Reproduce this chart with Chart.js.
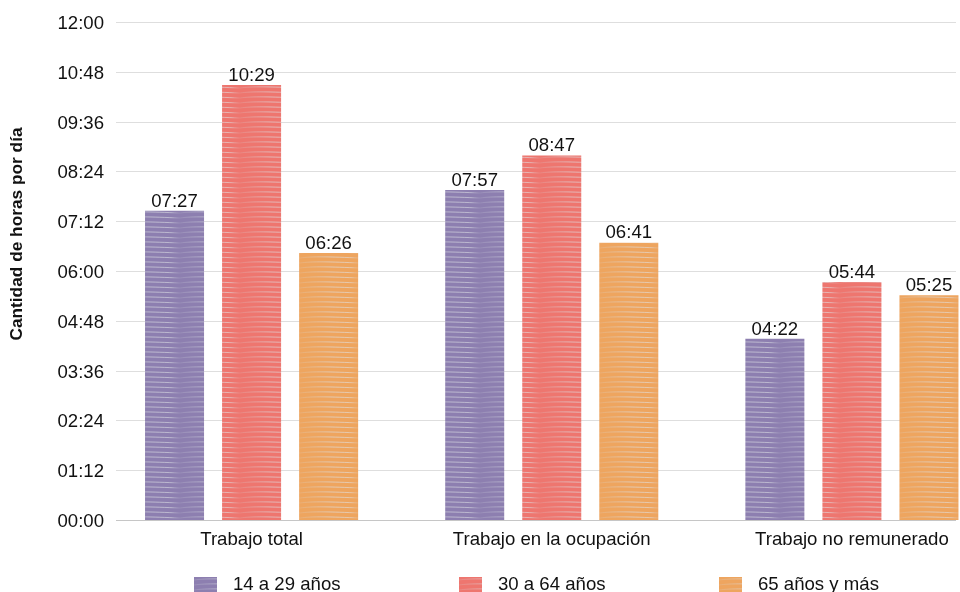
<!DOCTYPE html>
<html lang="es">
<head>
<meta charset="utf-8">
<title>Cantidad de horas por día</title>
<script src="https://cdn.jsdelivr.net/npm/chart.js@4"></script>
<style>
    html, body { margin: 0; padding: 0; background: #fff; overflow: hidden; }
    #wrap { position: absolute; left: 0; top: 0; width: 1002px; height: 592px; }
    .leg { position: absolute; top: 573px; font: 18.6px "Liberation Sans", Arial, sans-serif; color: #111; white-space: nowrap; }
    .leg canvas { position: absolute; left: 0; top: 4px; }
    .leg span { position: absolute; top: 0; }
</style>
</head>
<body>
<div id="wrap"><canvas id="chart"></canvas></div>
<div id="legend"></div>
<script>
// datos (hh:mm por día)
const categories = ['Trabajo total', 'Trabajo en la ocupación', 'Trabajo no remunerado'];
const seriesNames = ['14 a 29 años', '30 a 64 años', '65 años y más'];
const serie14a29 = ['07:27', '07:57', '04:22'];
const serie30a64 = ['10:29', '08:47', '05:44'];
const serie65mas = ['06:26', '06:41', '05:25'];
const yTickStep = 72;   // minutos (01:12)
const yMax = 720;       // 12:00

const baseColors = ['#8d7fb0', '#ee766f', '#eea55f'];
const FONT = '"Liberation Sans", Arial, sans-serif';

// "07:27" -> 447 minutos
function toMinutes(s) {
    const [h, m] = s.split(':').map(Number);
    return h * 60 + m;
}
function toHHMM(v) {
    const h = Math.floor(v / 60), m = Math.round(v % 60);
    return String(h).padStart(2, '0') + ':' + String(m).padStart(2, '0');
}

// relleno con rayas claras onduladas (suaves, casi horizontales)
function makePattern(color) {
    const c = document.createElement('canvas');
    c.width = 60; c.height = 5;
    const g = c.getContext('2d');
    g.fillStyle = color;
    g.fillRect(0, 0, 60, 5);
    const grad = g.createLinearGradient(0, 0, 60, 0);
    grad.addColorStop(0, 'rgba(215,220,226,0.15)');
    grad.addColorStop(0.5, 'rgba(220,224,228,0.6)');
    grad.addColorStop(0.85, 'rgba(225,228,232,0.55)');
    grad.addColorStop(1, 'rgba(215,220,226,0.15)');
    g.strokeStyle = grad;
    g.lineWidth = 1;
    g.beginPath();
    g.moveTo(0, 3);
    g.bezierCurveTo(12, 1.2, 30, 1.8, 60, 3);
    g.stroke();
    return g.createPattern(c, 'repeat');
}
const patterns = baseColors.map(makePattern);

// grilla desde x=116 y etiquetas del eje Y (sin recorte del eje)
const gridPlugin = {
    id: 'grid',
    beforeDatasetsDraw(chart) {
        const ctx = chart.ctx, y = chart.scales.y;
        ctx.save();
        ctx.lineWidth = 1;
        ctx.font = '18.6px ' + FONT;
        ctx.fillStyle = '#111';
        ctx.textAlign = 'right';
        ctx.textBaseline = 'middle';
        y.ticks.forEach(t => {
            const py = Math.round(y.getPixelForValue(t.value)) + 0.5;
            ctx.strokeStyle = t.value === 0 ? '#c6c6c6' : '#dedede';
            ctx.beginPath();
            ctx.moveTo(116, py);
            ctx.lineTo(956, py);
            ctx.stroke();
            ctx.fillText(toHHMM(t.value), 104, py + 1.5);
        });
        ctx.restore();
    }
};

// etiquetas sobre las barras + título del eje
const labelPlugin = {
    id: 'labels',
    afterDatasetsDraw(chart) {
        const ctx = chart.ctx;
        ctx.save();
        ctx.font = '18.6px ' + FONT;
        ctx.fillStyle = '#111';
        ctx.textAlign = 'center';
        ctx.textBaseline = 'bottom';
        chart.data.datasets.forEach((ds, i) => {
            chart.getDatasetMeta(i).data.forEach((bar, j) => {
                ctx.fillText(toHHMM(ds.data[j]), bar.x, bar.y);
            });
        });
        // título vertical
        ctx.translate(17, 234);
        ctx.rotate(-Math.PI / 2);
        ctx.font = 'bold 17.3px ' + FONT;
        ctx.textBaseline = 'middle';
        ctx.fillText('Cantidad de horas por día', 0, 0);
        ctx.restore();
    }
};

const seriesData = [serie14a29, serie30a64, serie65mas];

const myChart = new Chart(document.getElementById('chart'), {
    type: 'bar',
    data: {
        labels: categories,
        datasets: seriesNames.map((name, i) => ({
            label: name,
            data: seriesData[i].map(toMinutes),
            backgroundColor: patterns[i],
            borderWidth: 0,
            categoryPercentage: 0.77,
            barPercentage: 0.766
        }))
    },
    options: {
        responsive: true,
        maintainAspectRatio: false,
        animation: false,
        layout: { padding: { top: 22, right: 0, bottom: 0, left: 0 } },
        scales: {
            x: {
                grid: { display: false, drawTicks: false },
                border: { display: false },
                ticks: {
                    padding: 9,
                    color: '#111',
                    font: { family: FONT, size: 18.6 }
                },
                afterFit: s => { s.height = 72; }
            },
            y: {
                min: 0,
                max: yMax,
                grid: { display: false, drawTicks: false },
                border: { display: false },
                ticks: {
                    display: false,
                    stepSize: yTickStep,
                    callback: v => toHHMM(v)
                },
                afterFit: s => { s.width = 101.5; }
            }
        },
        plugins: {
            legend: { display: false },
            tooltip: { enabled: false }
        }
    },
    plugins: [gridPlugin, labelPlugin]
});

// leyenda en HTML
const legendX = [194, 459, 719];
const $legend = document.getElementById('legend');
seriesNames.forEach((name, i) => {
    const item = document.createElement('div');
    item.className = 'leg';
    item.style.left = legendX[i] + 'px';
    const sw = document.createElement('canvas');
    sw.width = 23; sw.height = 18;
    const g = sw.getContext('2d');
    g.fillStyle = patterns[i];
    g.fillRect(0, 0, 23, 18);
    const txt = document.createElement('span');
    txt.style.left = '39px';
    txt.textContent = name;
    item.appendChild(sw);
    item.appendChild(txt);
    $legend.appendChild(item);
});
</script>
</body>
</html>
